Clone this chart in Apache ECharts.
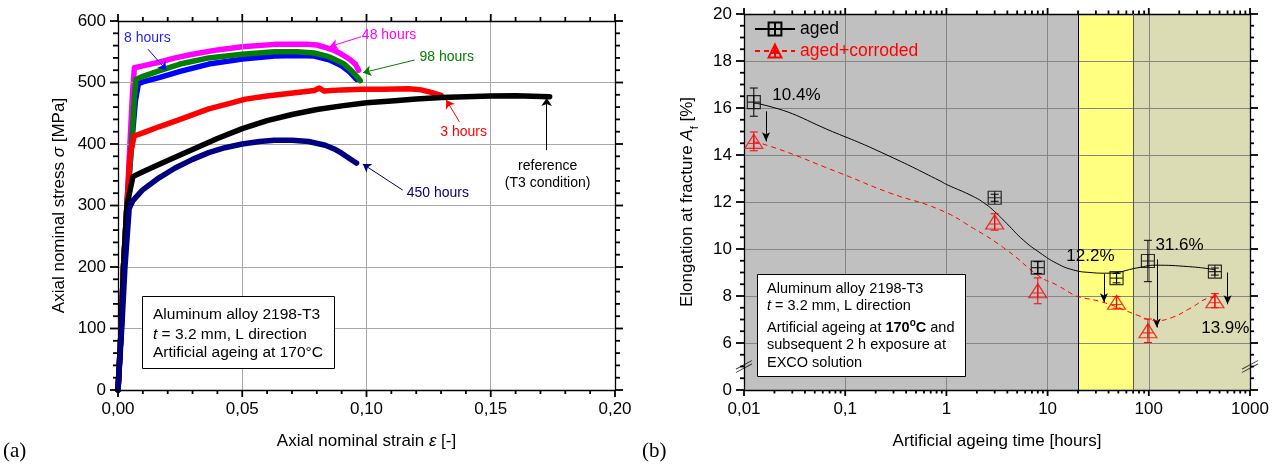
<!DOCTYPE html>
<html><head><meta charset="utf-8">
<script src="https://cdn.jsdelivr.net/npm/echarts@6/dist/echarts.min.js"></script>
<style>html,body{margin:0;padding:0;background:#fff}#c{width:1282px;height:464px}</style>
</head><body><div id="c"></div>
<script>
const FONT = '"Liberation Sans", Arial, Helvetica, sans-serif';
// ---------- Panel (a): stress-strain curves [strain, stress MPa]
const curve48h = [[0,0],[0.0013,100],[0.0022,200],[0.0036,300],[0.0048,400],[0.0058,480],[0.0066,524],[0.01,527],[0.0165,533],[0.023,540],[0.03,546],[0.04,553],[0.05,558],[0.063,562],[0.0767,562],[0.08,561],[0.0834,557],[0.087,552],[0.09,546],[0.0935,537],[0.0955,530],[0.0968,520]];
const curve8h = [[0,0],[0.0013,100],[0.0022,200],[0.0036,300],[0.0055,400],[0.007,470],[0.0082,498],[0.01,501],[0.0165,508],[0.025,518],[0.0365,530],[0.05,538],[0.063,543],[0.072,544],[0.079,543],[0.085,537],[0.09,527],[0.093,518],[0.096,505]];
const curve98h = [[0,0],[0.0013,100],[0.0022,200],[0.0036,300],[0.0055,400],[0.0065,470],[0.0072,505],[0.01,510],[0.0165,519],[0.025,530],[0.0365,540],[0.05,546],[0.063,550],[0.072,550],[0.079,548],[0.084,543],[0.087,538],[0.091,530],[0.094,519],[0.0965,508],[0.0975,503]];
const curve3h = [[0,0],[0.0013,100],[0.0022,200],[0.0036,300],[0.0048,380],[0.0065,413],[0.01,418],[0.0165,428],[0.025,440],[0.0365,457],[0.045,466],[0.0513,473],[0.06,478],[0.066,481],[0.073,484],[0.079,487],[0.081,491],[0.083,486],[0.09,488],[0.098,489],[0.107,489],[0.117,490],[0.122,488],[0.126,484],[0.13,479]];
const curveRef = [[0,0],[0.0013,100],[0.0022,200],[0.0036,300],[0.006,347],[0.01,355],[0.02,373],[0.03,391],[0.04,409],[0.05,425],[0.06,438],[0.07,448],[0.08,456],[0.09,462],[0.1,467],[0.11,470],[0.12,473],[0.13,475.5],[0.14,477],[0.15,478],[0.16,478.5],[0.1737,477]];
const curve450h = [[0,0],[0.0015,100],[0.0028,200],[0.0045,295],[0.006,308],[0.0098,325],[0.0165,345],[0.023,361],[0.03,375],[0.0365,386],[0.043,394],[0.05,400],[0.057,404],[0.063,406],[0.07,406],[0.0767,404],[0.0834,398],[0.087,392],[0.09,385],[0.0948,372],[0.096,369]];

// ---------- Panel (b): elongation at fracture
const ageHours   = [0.0125, 3, 8, 48, 98, 450];
const agedElong  = [16.25, 12.18, 9.21, 8.76, 9.49, 9.04];
const agedErr    = [0.6, 0.15, 0.25, 0.2, 0.88, 0.15];
const corrElong  = [14.58, 11.15, 8.22, 7.73, 6.52, 7.8];
const corrErr    = [0.4, 0.35, 0.55, 0.25, 0.5, 0.3];
const agedFit = [[0.0125,16.2],[0.0144,16.17],[0.088,14.87],[0.274,13.95],[0.865,12.9],[1.0,12.75],[1.85,12.23],[2.46,11.9],[3,11.59],[3.94,11.09],[5.75,10.38],[8.4,9.84],[12.3,9.39],[17.9,9.11],[26.2,9.0],[38.4,8.97],[79.9,9.21],[116,9.31],[248,9.25],[421,9.14],[450,9.1]];
const corrFit = [[0.0125,14.55],[0.0144,14.51],[0.088,13.24],[0.274,12.39],[0.85,11.68],[1.85,10.88],[3.94,9.96],[8.4,8.82],[12.3,8.47],[17.5,8.08],[19,8.0],[37.4,7.7],[79.9,7.16],[116,6.95],[171,7.09],[248,7.44],[421,7.94],[450,7.95]];
const lossArrows = [[0.0165,15.86,14.58],[36,8.93,7.73],[120,9.56,6.66],[600,9.0,7.65]]; // [hours, from, to]
const lossLabels = ['10.4%','12.2%','31.6%','13.9%'];
const ageBands = [[0.01,20],[20,70],[70,1000]];
const xTickLabelsA = ['0,00','0,05','0,10','0,15','0,20'];
const xTickLabelsB = ['0,01','0,1','1','10','100','1000'];
const yTickLabelsB = ['0','6','8','10','12','14','16','18','20'];

// ---------- styling / layout (not data)
const G0 = {left:118, top:21, width:497, height:369};
const G1 = {left:744, top:14, width:506, height:376};
const bandColors = ['#c0c0c0','#ffff80','#dcdcb4'];

const lblStyle = {fontSize:17, fontFamily:FONT, color:'#000'};
const nameStyle = {fontSize:17, fontFamily:FONT, color:'#000'};

function valAxis(extra){
  return Object.assign({
    axisLine:{show:true, onZero:false, lineStyle:{color:'#000', width:1.3}},
    axisTick:{show:false},
    minorTick:{show:false},
    splitLine:{show:false},
    axisLabel:{show:false},
    z:3
  }, extra);
}

const xA = {type:'value', min:0, max:0.2, interval:0.05};
const yA = {type:'value', min:0, max:600, interval:100};
const yB = {type:'value', min:4, max:20, interval:2};
const xB = {type:'log', logBase:10, min:0.01, max:1000};

// tick mark positions (axis furniture): [x, y, side(0 bottom,1 top,2 left,3 right), length]
function linTicks(min, max, step){ const a=[]; const n=Math.round((max-min)/step); for(let i=0;i<=n;i++) a.push(+(min+i*step).toFixed(6)); return a; }
const ticksA = [];
linTicks(0,0.2,0.01).forEach((v,i)=>{ ticksA.push([v,0,0,i%5===0?7:4]); });
linTicks(0,0.2,0.01).forEach((v,i)=>{ ticksA.push([v,600,1,i%5===0?7:4]); });
linTicks(0,600,20).forEach((v,i)=>{ ticksA.push([0,v,2,i%5===0?8:5]); });
linTicks(0,600,20).forEach((v,i)=>{ ticksA.push([0.2,v,3,i%5===0?8:5]); });
const logTickVals = [];
for (let d=-2; d<=3; d++){
  logTickVals.push([+Math.pow(10,d).toPrecision(3), 6]);
  if (d<3) for (let k=2;k<=9;k++) logTickVals.push([+(k*Math.pow(10,d)).toPrecision(3), 3.5]);
}
const ticksB = [];
logTickVals.forEach(t=>ticksB.push([t[0],4,0,t[1]]));
logTickVals.forEach(t=>ticksB.push([t[0],20,1,t[1]]));
linTicks(4,20,0.5).forEach((v,i)=>ticksB.push([0.01,v,2,i%4===0?8:4]));
linTicks(4,20,0.5).forEach((v,i)=>ticksB.push([1000,v,3,i%4===0?8:4]));

const option = {
  animation:false,
  backgroundColor:'#fff',
  textStyle:{fontFamily:FONT},
  grid:[
    Object.assign({containLabel:false, outerBoundsMode:'none'}, G0),
    Object.assign({containLabel:false, outerBoundsMode:'none'}, G1)
  ],
  legend:{
    left:749, top:15, orient:'vertical', itemGap:4, itemWidth:40, itemHeight:16,
    textStyle:{fontSize:17.5, fontFamily:FONT},
    data:[{name:'aged', textStyle:{color:'#000'}}, {name:'aged+corroded', textStyle:{color:'#ff0000'}}],
    selectedMode:false
  },
  xAxis:[
    valAxis(Object.assign({gridIndex:0, position:'bottom',
      axisLabel:{show:true, margin:11, ...lblStyle, formatter:(v)=>xTickLabelsA[Math.round(v/0.05)]},
      splitLine:{show:true, lineStyle:{color:'#a8a8a8', width:1}},
      name:'Axial nominal strain {i|ε} [-]', nameLocation:'middle', nameGap:43,
      nameTextStyle:Object.assign({}, nameStyle, {rich:{i:{fontStyle:'italic', fontSize:17, fontFamily:FONT, color:'#000'}}})
    }, xA)),
    valAxis(Object.assign({gridIndex:0, position:'top'}, xA)),
    valAxis(Object.assign({gridIndex:1, position:'bottom',
      axisLabel:{show:true, margin:11, ...lblStyle, formatter:(v)=>xTickLabelsB[Math.round(Math.log10(v))+2]},
      splitLine:{show:true, lineStyle:{color:'#858585', width:1}},
      name:'Artificial ageing time [hours]', nameLocation:'middle', nameGap:43, nameTextStyle:nameStyle
    }, xB)),
    valAxis(Object.assign({gridIndex:1, position:'top'}, xB))
  ],
  yAxis:[
    valAxis(Object.assign({gridIndex:0, position:'left',
      axisLabel:{show:true, margin:12, ...lblStyle},
      splitLine:{show:true, lineStyle:{color:'#a8a8a8', width:1}},
      name:'Axial nominal stress {i|σ} [MPa]', nameLocation:'middle', nameGap:50,
      nameTextStyle:Object.assign({}, nameStyle, {rich:{i:{fontStyle:'italic', fontSize:17, fontFamily:FONT, color:'#000'}}})
    }, yA)),
    valAxis(Object.assign({gridIndex:0, position:'right'}, yA)),
    valAxis(Object.assign({gridIndex:1, position:'left',
      axisLabel:{show:true, margin:12, ...lblStyle, formatter:(v)=>yTickLabelsB[Math.round((v-4)/2)]},
      splitLine:{show:true, lineStyle:{color:'#858585', width:1}},
      name:'Elongation at fracture {i|A}{s|f} [%]', nameLocation:'middle', nameGap:44,
      nameTextStyle:Object.assign({}, nameStyle, {lineHeight:26, rich:{
        i:{fontStyle:'italic', fontSize:17, fontFamily:FONT, color:'#000', lineHeight:26},
        s:{fontSize:11, fontFamily:FONT, color:'#000', lineHeight:11, verticalAlign:'bottom'}}})
    }, yB)),
    valAxis(Object.assign({gridIndex:1, position:'right'}, yB))
  ],
  series:[]
};

// ---- panel (a) series
function curveSeries(name, data, color, z, arrow){
  return {
    name, type:'line', xAxisIndex:0, yAxisIndex:0, data, symbol:'none', smooth:false, z,
    lineStyle:{color, width:5.5, cap:'round', join:'round'},
    markLine:{silent:true, symbol:['none','arrow'], symbolSize:8, label:{show:false},
      lineStyle:{color, width:1, type:'solid'},
      data:[[{coord:arrow[0]},{coord:arrow[1]}]]}
  };
}
const arrowsA = {
  h48:[[0.0979,574.5],[0.0852,558.2]],
  h8:[[0.0121,554],[0.0195,520]],
  h98:[[0.1194,536.6],[0.0986,516]],
  h3:[[0.1374,436],[0.1321,471.5]],
  ref:[[0.1725,390],[0.1725,474.8]],
  h450:[[0.1146,325],[0.0985,367.5]]
};
option.series.push(
  curveSeries('48 hours', curve48h, '#ff00ff', 2, arrowsA.h48),
  curveSeries('8 hours', curve8h, '#0000ff', 3, arrowsA.h8),
  curveSeries('98 hours', curve98h, '#008000', 4, arrowsA.h98),
  curveSeries('3 hours', curve3h, '#ff0000', 5, arrowsA.h3),
  curveSeries('reference', curveRef, '#000000', 6, arrowsA.ref),
  curveSeries('450 hours', curve450h, '#000080', 7, arrowsA.h450)
);

// ---- panel (b) series
const sqSym = 'path://M0,0H10V10H0Z M5,0V10 M0,5H10';
const triSym = 'path://M6,0L12,10H0Z M6,0V10 M2,6.5H10';
const breakSym = 'path://M0,14L16,4 M0,10L16,0';
option.series.push({
  name:'bands', type:'line', xAxisIndex:2, yAxisIndex:2, data:[], z:1, silent:true,
  markArea:{silent:true, data: ageBands.map((b,i)=>[{xAxis:b[0], itemStyle:{color:bandColors[i]}},{xAxis:b[1]}])},
  markLine:{silent:true, symbol:['none','none'], label:{show:false},
    data:[{xAxis:ageBands[1][0], lineStyle:{color:'#000', width:1, type:'solid'}},
          {xAxis:ageBands[2][0], lineStyle:{color:'#555', width:1, type:'solid'}}]}
});
option.series.push({
  name:'aged', type:'line', xAxisIndex:2, yAxisIndex:2, data:agedFit, smooth:0.5, z:5,
  symbol:sqSym, symbolSize:13, showSymbol:false,
  itemStyle:{color:'rgba(0,0,0,0)', borderColor:'#000', borderWidth:1},
  lineStyle:{color:'#000', width:1},
  markLine:{silent:true, symbol:['none','arrow'], symbolSize:[6,9], label:{show:false},
    lineStyle:{color:'#000', width:1, type:'solid'},
    data: lossArrows.map(a=>[{coord:[a[0],a[1]]},{coord:[a[0],a[2]]}])}
});
option.series.push({
  name:'aged+corroded', type:'line', xAxisIndex:2, yAxisIndex:2, data:corrFit, smooth:0.5, z:5,
  symbol:triSym, symbolSize:[18,14], showSymbol:false,
  itemStyle:{color:'rgba(0,0,0,0)', borderColor:'#ff0000', borderWidth:1},
  lineStyle:{color:'#ff0000', width:1, type:[5,4]}
});
function errSeries(vals, errs, color){
  return {
    type:'custom', xAxisIndex:2, yAxisIndex:2, z:6, silent:true,
    data: ageHours.map((h,i)=>[h, vals[i]-errs[i], vals[i]+errs[i]]),
    renderItem:(params, api)=>{
      const x = api.value(0), lo = api.value(1), hi = api.value(2);
      const p1 = api.coord([x,hi]), p2 = api.coord([x,lo]);
      const hw = 4, st = {stroke:color, lineWidth:1};
      return {type:'group', children:[
        {type:'line', shape:{x1:p1[0],y1:p1[1],x2:p2[0],y2:p2[1]}, style:st},
        {type:'line', shape:{x1:p1[0]-hw,y1:p1[1],x2:p1[0]+hw,y2:p1[1]}, style:st},
        {type:'line', shape:{x1:p2[0]-hw,y1:p2[1],x2:p2[0]+hw,y2:p2[1]}, style:st}
      ]};
    }
  };
}
option.series.push(errSeries(agedElong, agedErr, '#000'), errSeries(corrElong, corrErr, '#ff0000'));
option.series.push({
  name:'aged pts', type:'scatter', xAxisIndex:2, yAxisIndex:2, z:7, silent:true,
  data: ageHours.map((h,i)=>[h, agedElong[i]]), symbol:sqSym, symbolSize:13,
  itemStyle:{color:'rgba(0,0,0,0)', borderColor:'#000', borderWidth:1.2}
});
option.series.push({
  name:'corr pts', type:'scatter', xAxisIndex:2, yAxisIndex:2, z:7, silent:true,
  data: ageHours.map((h,i)=>[h, corrElong[i]]), symbol:triSym, symbolSize:[18,14],
  itemStyle:{color:'rgba(0,0,0,0)', borderColor:'#ff0000', borderWidth:1.2}
});
option.series.push({
  name:'axis break', type:'scatter', xAxisIndex:2, yAxisIndex:2, z:8, silent:true, clip:false,
  data:[[0.01,5],[1000,5]], symbol:breakSym, symbolSize:[16,12],
  itemStyle:{color:'rgba(0,0,0,0)', borderColor:'#000', borderWidth:1}
});

const chart = echarts.init(document.getElementById('c'), null, {renderer:'canvas'});
chart.setOption(option);

const graphics = [];
// ---- tick marks placed through the axes' own scales
function addTicks(gridIndex, list, prefix){
  list.forEach((t, k)=>{
    const p = chart.convertToPixel({gridIndex}, [t[0], t[1]]);
    if (!p || isNaN(p[0]) || isNaN(p[1])) return;
    const x = p[0], y = p[1], L = t[3];
    let x2 = x, y2 = y;
    if (t[2]===0) y2 = y + L; else if (t[2]===1) y2 = y - L; else if (t[2]===2) x2 = x - L; else x2 = x + L;
    graphics.push({type:'line', id:prefix+k, z:50, silent:true, shape:{x1:x, y1:y, x2:x2, y2:y2}, style:{stroke:'#000', lineWidth:1.8}});
  });
}
addTicks(0, ticksA, 'ta');
addTicks(1, ticksB, 'tb');

// ---- annotations (text), placed in data coordinates
const annA = [
  {t:'8 hours', x:0.0118, y:572, c:'#1f1fff'},
  {t:'48 hours', x:0.1091, y:577, c:'#ff00ff'},
  {t:'98 hours', x:0.1323, y:542, c:'#008000'},
  {t:'3 hours', x:0.1391, y:420, c:'#ff0000'},
  {t:'450 hours', x:0.1287, y:320, c:'#000080'},
  {t:'reference\n(T3 condition)', x:0.1729, y:350, c:'#000'}
];
const annBpos = [[0.01904,16.55,'left'],[26.5,9.7,'center'],[201,10.17,'center'],[570,6.63,'center']];
annA.forEach(a=>{
  const p = chart.convertToPixel({gridIndex:0}, [a.x, a.y]);
  graphics.push({type:'text', x:p[0], y:p[1], z:100, silent:true,
    style:{text:a.t, fill:a.c, fontSize:14, fontFamily:FONT, align:'center', verticalAlign:'middle', lineHeight:17}});
});
annBpos.forEach((a,i)=>{
  const p = chart.convertToPixel({gridIndex:1}, [a[0], a[1]]);
  graphics.push({type:'text', x:p[0], y:p[1], z:100, silent:true,
    style:{text:lossLabels[i], fill:'#000', fontSize:17, fontFamily:FONT, align:a[2], verticalAlign:'middle'}});
});
const it = {fontStyle:'italic', fontSize:15.5, fontFamily:FONT, fill:'#000'};
graphics.push({type:'rect', z:100, silent:true, shape:{x:142.5, y:296.5, width:192, height:72}, style:{fill:'#fff', stroke:'#000', lineWidth:1}});
[['Aluminum alloy 2198-T3',315],['{i|t} = 3.2 mm, L direction',335],['Artificial ageing at 170\u00b0C',353]].forEach(l=>{
  graphics.push({type:'text', z:101, silent:true, x:153, y:l[1],
    style:{text:l[0], fill:'#000', fontSize:15.5, fontFamily:FONT, align:'left', verticalAlign:'middle', rich:{i:it}}});
});
const it2 = {fontStyle:'italic', fontSize:14.5, fontFamily:FONT, fill:'#000'};
graphics.push({type:'rect', z:100, silent:true, shape:{x:757.5, y:274.5, width:208, height:102}, style:{fill:'#fff', stroke:'#000', lineWidth:1}});
[['Aluminum alloy 2198-T3',288.5],['{i|t} = 3.2 mm, L direction',306],['Artificial ageing at {b|170}{sup|o}{b|C} and',327.5],['subsequent 2 h exposure at',345],['EXCO solution',362.5]].forEach(l=>{
  graphics.push({type:'text', z:101, silent:true, x:767, y:l[1],
    style:{text:l[0], fill:'#000', fontSize:14.5, fontFamily:FONT, align:'left', verticalAlign:'middle',
      rich:{i:it2, b:{fontWeight:'bold', fontSize:14.5, fontFamily:FONT, fill:'#000'},
        sup:{fontWeight:'bold', fontSize:10, fontFamily:FONT, fill:'#000', verticalAlign:'top', padding:[0,0,8,0]}}}});
});
graphics.push({type:'text', z:100, silent:true, x:3, y:451, style:{text:'(a)', fill:'#000', fontSize:21, fontFamily:'"Liberation Serif", "Times New Roman", serif', align:'left', verticalAlign:'middle'}});
graphics.push({type:'text', z:100, silent:true, x:642, y:451, style:{text:'(b)', fill:'#000', fontSize:21, fontFamily:'"Liberation Serif", "Times New Roman", serif', align:'left', verticalAlign:'middle'}});
chart.setOption({graphic:graphics});
</script>
</body></html>
